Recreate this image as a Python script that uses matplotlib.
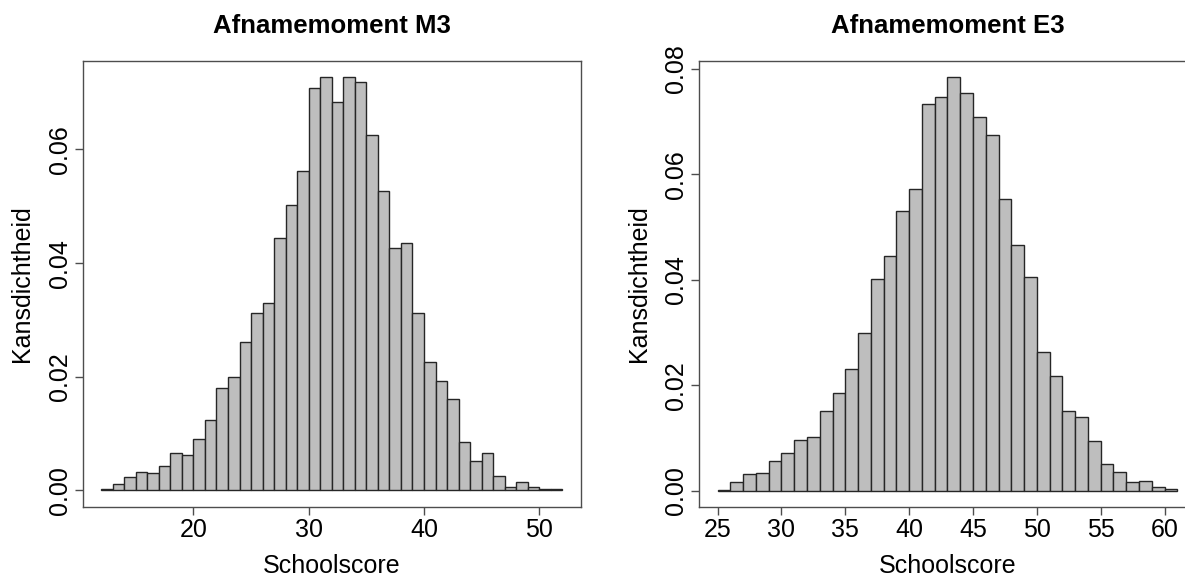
"""
Histogrammen van de schoolscore per afnamemoment (M3 en E3), R-stijl.
"""

import matplotlib.pyplot as plt
import numpy as np

plt.rcParams.update({
    "font.family": ["Liberation Sans", "DejaVu Sans"],
    "font.size": 18,
})

# Afnamemoment M3: bins van breedte 1, van 12 t/m 52
m3_edges = np.arange(12, 53)
m3_density = [
    0.0002, 0.0011, 0.0023, 0.0033, 0.0030, 0.0043, 0.0066, 0.0063, 0.0090, 0.0124,
    0.0180, 0.0200, 0.0261, 0.0313, 0.0329, 0.0445, 0.0502, 0.0562, 0.0708, 0.0727,
    0.0684, 0.0727, 0.0718, 0.0626, 0.0527, 0.0426, 0.0435, 0.0313, 0.0226, 0.0193,
    0.0161, 0.0085, 0.0051, 0.0066, 0.0025, 0.0006, 0.0015, 0.0006, 0.0002, 0.0002,
]
m3_xticks = [20, 30, 40, 50]
m3_yticks = [0.00, 0.02, 0.04, 0.06]

# Afnamemoment E3: bins van breedte 1, van 25 t/m 61
e3_edges = np.arange(25, 62)
e3_density = [
    0.0002, 0.0016, 0.0031, 0.0033, 0.0056, 0.0072, 0.0096, 0.0101, 0.0151, 0.0185,
    0.0230, 0.0299, 0.0401, 0.0445, 0.0530, 0.0572, 0.0733, 0.0746, 0.0784, 0.0754,
    0.0709, 0.0675, 0.0554, 0.0466, 0.0406, 0.0264, 0.0217, 0.0151, 0.0139, 0.0094,
    0.0050, 0.0036, 0.0017, 0.0019, 0.0007, 0.0004,
]
e3_xticks = [25, 30, 35, 40, 45, 50, 55, 60]
e3_yticks = [0.00, 0.02, 0.04, 0.06, 0.08]

FRAME = "#4d4d4d"
BAR = "#bebebe"


def r_hist(ax, edges, dens, xticks, yticks, title):
    left = edges[:-1]
    ax.bar(left, dens, width=np.diff(edges), align="edge",
           color=BAR, edgecolor="#262626", linewidth=1.0)
    # R extends the range by 4% on both sides
    span = edges[-1] - edges[0]
    ax.set_xlim(edges[0] - 0.04 * span, edges[-1] + 0.04 * span)
    top = max(dens)
    ax.set_ylim(-0.04 * top, top * 1.04)
    ax.set_xticks(xticks)
    ax.set_yticks(yticks)
    ax.set_yticklabels([f"{v:.2f}" for v in yticks], rotation=90, va="center")
    ax.tick_params(direction="out", length=6, width=1, color=FRAME, pad=2)
    for s in ax.spines.values():
        s.set_color(FRAME)
        s.set_linewidth(1)
    ax.set_title(title, fontweight="bold", fontsize=18.5, pad=20)
    ax.set_xlabel("Schoolscore")
    ax.set_ylabel("Kansdichtheid")
    ax.xaxis.set_label_coords(0.5, -0.105)
    ax.yaxis.set_label_coords(-0.098, 0.5)


fig = plt.figure(figsize=(11.85, 5.76), dpi=100)
ax1 = fig.add_axes([0.0698, 0.1198, 0.4203, 0.7748])
ax2 = fig.add_axes([0.5901, 0.1193, 0.4189, 0.7753])

r_hist(ax1, m3_edges, m3_density, m3_xticks, m3_yticks, "Afnamemoment M3")
r_hist(ax2, e3_edges, e3_density, e3_xticks, e3_yticks, "Afnamemoment E3")

fig.savefig("out.png", dpi=100)
